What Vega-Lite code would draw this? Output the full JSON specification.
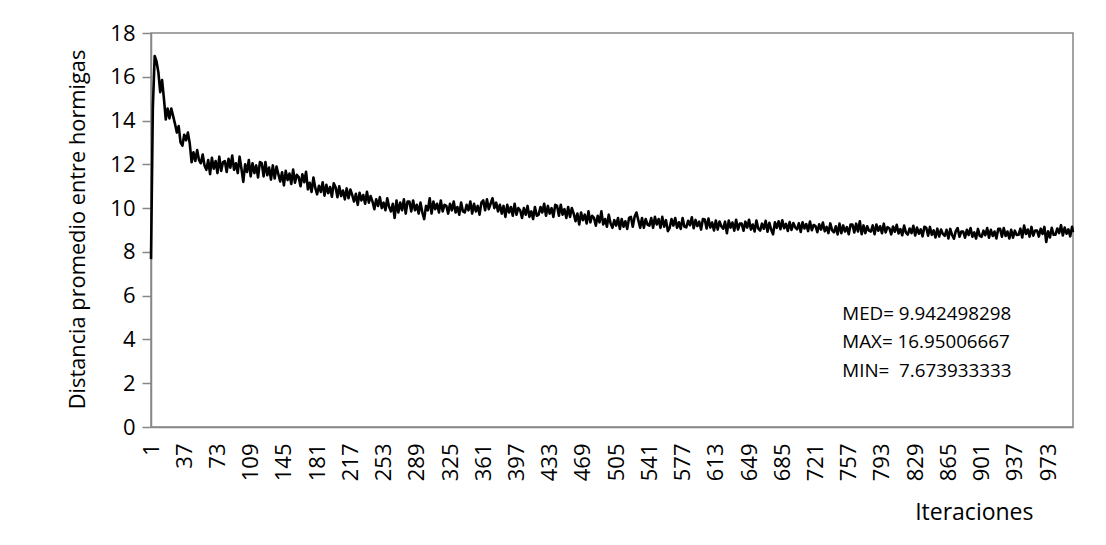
{
  "$schema": "https://vega.github.io/schema/vega-lite/v6.json",
  "width": 922,
  "height": 394,
  "autosize": "none",
  "padding": {"left": 151, "top": 33, "right": 33, "bottom": 118},
  "background": "white",
  "config": {
    "view": {"stroke": "#878787", "strokeWidth": 1.5},
    "font": "Open Sans"
  },
  "datasets": {
    "series": [
      {"i":1,"d":7.67},{"i":3,"d":14.6},{"i":5,"d":16.95},{"i":7,"d":16.7},{"i":9,"d":16.2},{"i":11,"d":15.3},{"i":13,"d":15.85},{"i":15,"d":15.0},{"i":17,"d":14.05},{"i":19,"d":14.55},
      {"i":21,"d":14.1},{"i":23,"d":14.55},{"i":25,"d":14.2},{"i":27,"d":13.85},{"i":29,"d":13.45},{"i":31,"d":13.75},{"i":33,"d":13.0},{"i":35,"d":12.85},{"i":37,"d":13.35},{"i":39,"d":13.1},
      {"i":41,"d":13.45},{"i":43,"d":12.95},{"i":45,"d":12.1},{"i":47,"d":12.55},{"i":49,"d":12.15},{"i":51,"d":12.65},{"i":53,"d":12.2},{"i":55,"d":12.05},{"i":57,"d":12.45},{"i":59,"d":11.95},
      {"i":61,"d":11.75},{"i":63,"d":12.2},{"i":65,"d":11.55},{"i":67,"d":12.3},{"i":69,"d":11.8},{"i":71,"d":12.15},{"i":73,"d":11.6},{"i":75,"d":12.35},{"i":77,"d":11.7},{"i":79,"d":12.1},
      {"i":81,"d":12.15},{"i":83,"d":11.65},{"i":85,"d":12.25},{"i":87,"d":11.85},{"i":89,"d":12.4},{"i":91,"d":11.75},{"i":93,"d":12.05},{"i":95,"d":11.6},{"i":97,"d":12.35},{"i":99,"d":11.8},
      {"i":101,"d":11.2},{"i":103,"d":12.0},{"i":105,"d":11.65},{"i":107,"d":12.2},{"i":109,"d":11.45},{"i":111,"d":12.05},{"i":113,"d":11.6},{"i":115,"d":11.95},{"i":117,"d":11.4},{"i":119,"d":12.1},
      {"i":121,"d":12.05},{"i":123,"d":11.45},{"i":125,"d":12.1},{"i":127,"d":11.5},{"i":129,"d":11.85},{"i":131,"d":11.3},{"i":133,"d":11.95},{"i":135,"d":11.35},{"i":137,"d":11.9},{"i":139,"d":11.55},
      {"i":141,"d":11.22},{"i":143,"d":11.64},{"i":145,"d":11.04},{"i":147,"d":11.7},{"i":149,"d":11.28},{"i":151,"d":11.58},{"i":153,"d":11.1},{"i":155,"d":11.76},{"i":157,"d":11.16},{"i":159,"d":11.52},
      {"i":161,"d":11.42},{"i":163,"d":11.0},{"i":165,"d":11.54},{"i":167,"d":11.18},{"i":169,"d":11.66},{"i":171,"d":10.86},{"i":173,"d":11.16},{"i":175,"d":10.74},{"i":177,"d":11.4},{"i":179,"d":10.92},
      {"i":181,"d":10.63},{"i":183,"d":11.02},{"i":185,"d":10.74},{"i":187,"d":11.18},{"i":189,"d":10.57},{"i":191,"d":11.07},{"i":193,"d":10.68},{"i":195,"d":10.96},{"i":197,"d":10.52},{"i":199,"d":11.13},
      {"i":201,"d":10.95},{"i":203,"d":10.5},{"i":205,"d":11.0},{"i":207,"d":10.55},{"i":209,"d":10.8},{"i":211,"d":10.4},{"i":213,"d":10.9},{"i":215,"d":10.45},{"i":217,"d":10.85},{"i":219,"d":10.6},
      {"i":221,"d":10.3},{"i":223,"d":10.65},{"i":225,"d":10.15},{"i":227,"d":10.7},{"i":229,"d":10.35},{"i":231,"d":10.6},{"i":233,"d":10.2},{"i":235,"d":10.75},{"i":237,"d":10.25},{"i":239,"d":10.55},
      {"i":241,"d":10.3},{"i":243,"d":9.95},{"i":245,"d":10.4},{"i":247,"d":10.1},{"i":249,"d":10.5},{"i":251,"d":10.0},{"i":253,"d":10.25},{"i":255,"d":9.9},{"i":257,"d":10.45},{"i":259,"d":10.05},
      {"i":261,"d":9.85},{"i":263,"d":10.2},{"i":265,"d":9.55},{"i":267,"d":10.35},{"i":269,"d":9.8},{"i":271,"d":10.25},{"i":273,"d":9.9},{"i":275,"d":10.4},{"i":277,"d":9.75},{"i":279,"d":10.3},
      {"i":281,"d":10.3},{"i":283,"d":9.85},{"i":285,"d":10.35},{"i":287,"d":9.9},{"i":289,"d":10.15},{"i":291,"d":9.75},{"i":293,"d":10.25},{"i":295,"d":9.8},{"i":297,"d":9.5},{"i":299,"d":10.1},
      {"i":301,"d":9.9},{"i":303,"d":10.45},{"i":305,"d":9.75},{"i":307,"d":10.3},{"i":309,"d":9.95},{"i":311,"d":10.2},{"i":313,"d":9.8},{"i":315,"d":10.35},{"i":317,"d":9.85},{"i":319,"d":10.15},
      {"i":321,"d":10.1},{"i":323,"d":9.75},{"i":325,"d":10.2},{"i":327,"d":9.9},{"i":329,"d":10.3},{"i":331,"d":9.8},{"i":333,"d":10.05},{"i":335,"d":9.7},{"i":337,"d":10.25},{"i":339,"d":9.85},
      {"i":341,"d":9.8},{"i":343,"d":10.15},{"i":345,"d":9.9},{"i":347,"d":10.3},{"i":349,"d":9.75},{"i":351,"d":10.2},{"i":353,"d":9.85},{"i":355,"d":10.1},{"i":357,"d":9.7},{"i":359,"d":10.25},
      {"i":361,"d":10.35},{"i":363,"d":9.9},{"i":365,"d":10.4},{"i":367,"d":9.95},{"i":369,"d":10.2},{"i":371,"d":10.45},{"i":373,"d":10.0},{"i":375,"d":10.25},{"i":377,"d":9.85},{"i":379,"d":10.15},
      {"i":381,"d":9.75},{"i":383,"d":10.1},{"i":385,"d":9.6},{"i":387,"d":10.15},{"i":389,"d":9.8},{"i":391,"d":10.05},{"i":393,"d":9.65},{"i":395,"d":10.2},{"i":397,"d":9.7},{"i":399,"d":10.0},
      {"i":401,"d":9.9},{"i":403,"d":9.55},{"i":405,"d":10.0},{"i":407,"d":9.7},{"i":409,"d":10.1},{"i":411,"d":9.6},{"i":413,"d":9.85},{"i":415,"d":9.5},{"i":417,"d":10.05},{"i":419,"d":9.65},
      {"i":421,"d":9.7},{"i":423,"d":10.05},{"i":425,"d":9.8},{"i":427,"d":10.2},{"i":429,"d":9.65},{"i":431,"d":10.1},{"i":433,"d":9.75},{"i":435,"d":10.0},{"i":437,"d":9.6},{"i":439,"d":10.15},
      {"i":441,"d":10.1},{"i":443,"d":9.65},{"i":445,"d":10.15},{"i":447,"d":9.7},{"i":449,"d":9.95},{"i":451,"d":9.55},{"i":453,"d":10.05},{"i":455,"d":9.6},{"i":457,"d":10.0},{"i":459,"d":9.75},
      {"i":461,"d":9.4},{"i":463,"d":9.75},{"i":465,"d":9.25},{"i":467,"d":9.8},{"i":469,"d":9.45},{"i":471,"d":9.7},{"i":473,"d":9.3},{"i":475,"d":9.85},{"i":477,"d":9.35},{"i":479,"d":9.65},
      {"i":481,"d":9.55},{"i":483,"d":9.2},{"i":485,"d":9.65},{"i":487,"d":9.35},{"i":489,"d":9.85},{"i":491,"d":9.25},{"i":493,"d":9.5},{"i":495,"d":9.15},{"i":497,"d":9.7},{"i":499,"d":9.3},
      {"i":501,"d":9.1},{"i":503,"d":9.45},{"i":505,"d":9.2},{"i":507,"d":9.55},{"i":509,"d":9.05},{"i":511,"d":9.5},{"i":513,"d":9.15},{"i":515,"d":9.4},{"i":517,"d":9.05},{"i":519,"d":9.55},
      {"i":521,"d":9.6},{"i":523,"d":9.15},{"i":525,"d":9.6},{"i":527,"d":9.8},{"i":529,"d":9.45},{"i":531,"d":9.1},{"i":533,"d":9.55},{"i":535,"d":9.1},{"i":537,"d":9.5},{"i":539,"d":9.25},
      {"i":541,"d":9.2},{"i":543,"d":9.55},{"i":545,"d":9.1},{"i":547,"d":9.6},{"i":549,"d":9.25},{"i":551,"d":9.5},{"i":553,"d":9.1},{"i":555,"d":9.6},{"i":557,"d":9.15},{"i":559,"d":9.45},
      {"i":561,"d":8.95},{"i":563,"d":9.1},{"i":565,"d":9.5},{"i":567,"d":9.2},{"i":569,"d":9.55},{"i":571,"d":9.1},{"i":573,"d":9.35},{"i":575,"d":9.05},{"i":577,"d":9.55},{"i":579,"d":9.15},
      {"i":581,"d":9.12},{"i":583,"d":9.42},{"i":585,"d":9.22},{"i":587,"d":9.58},{"i":589,"d":9.08},{"i":591,"d":9.46},{"i":593,"d":9.18},{"i":595,"d":9.38},{"i":597,"d":9.02},{"i":599,"d":9.5},
      {"i":601,"d":9.48},{"i":603,"d":9.07},{"i":605,"d":9.52},{"i":607,"d":9.11},{"i":609,"d":9.34},{"i":611,"d":8.98},{"i":613,"d":9.43},{"i":615,"d":9.02},{"i":617,"d":9.39},{"i":619,"d":9.16},
      {"i":621,"d":9.06},{"i":623,"d":9.38},{"i":625,"d":8.85},{"i":627,"d":9.43},{"i":629,"d":9.11},{"i":631,"d":9.34},{"i":633,"d":8.97},{"i":635,"d":9.47},{"i":637,"d":9.02},{"i":639,"d":9.29},
      {"i":641,"d":9.29},{"i":643,"d":8.97},{"i":645,"d":9.38},{"i":647,"d":9.11},{"i":649,"d":9.47},{"i":651,"d":9.02},{"i":653,"d":9.25},{"i":655,"d":8.93},{"i":657,"d":9.43},{"i":659,"d":9.06},
      {"i":661,"d":8.97},{"i":663,"d":9.29},{"i":665,"d":9.06},{"i":667,"d":9.42},{"i":669,"d":8.92},{"i":671,"d":9.33},{"i":673,"d":9.01},{"i":675,"d":8.8},{"i":677,"d":9.35},{"i":679,"d":9.1},
      {"i":681,"d":9.4},{"i":683,"d":9.04},{"i":685,"d":9.44},{"i":687,"d":9.08},{"i":689,"d":9.28},{"i":691,"d":8.96},{"i":693,"d":9.36},{"i":695,"d":9.0},{"i":697,"d":9.32},{"i":699,"d":9.12},
      {"i":701,"d":9.03},{"i":703,"d":9.31},{"i":705,"d":8.91},{"i":707,"d":9.35},{"i":709,"d":9.07},{"i":711,"d":9.27},{"i":713,"d":8.95},{"i":715,"d":9.39},{"i":717,"d":8.99},{"i":719,"d":9.23},
      {"i":721,"d":9.18},{"i":723,"d":8.9},{"i":725,"d":9.26},{"i":727,"d":9.02},{"i":729,"d":9.34},{"i":731,"d":8.94},{"i":733,"d":9.14},{"i":735,"d":8.86},{"i":737,"d":9.3},{"i":739,"d":8.98},
      {"i":741,"d":8.89},{"i":743,"d":9.17},{"i":745,"d":8.8},{"i":747,"d":9.29},{"i":749,"d":8.85},{"i":751,"d":9.21},{"i":753,"d":8.93},{"i":755,"d":9.13},{"i":757,"d":8.81},{"i":759,"d":9.25},
      {"i":761,"d":9.25},{"i":763,"d":8.89},{"i":765,"d":9.29},{"i":767,"d":8.93},{"i":769,"d":9.4},{"i":771,"d":8.81},{"i":773,"d":9.21},{"i":775,"d":8.85},{"i":777,"d":9.17},{"i":779,"d":8.97},
      {"i":781,"d":8.93},{"i":783,"d":9.21},{"i":785,"d":8.81},{"i":787,"d":9.25},{"i":789,"d":8.97},{"i":791,"d":9.17},{"i":793,"d":8.85},{"i":795,"d":9.29},{"i":797,"d":8.89},{"i":799,"d":9.13},
      {"i":801,"d":9.08},{"i":803,"d":8.8},{"i":805,"d":9.16},{"i":807,"d":8.92},{"i":809,"d":9.24},{"i":811,"d":8.84},{"i":813,"d":9.04},{"i":815,"d":8.76},{"i":817,"d":9.2},{"i":819,"d":8.88},
      {"i":821,"d":8.79},{"i":823,"d":9.07},{"i":825,"d":8.86},{"i":827,"d":9.19},{"i":829,"d":8.75},{"i":831,"d":9.11},{"i":833,"d":8.83},{"i":835,"d":9.03},{"i":837,"d":8.71},{"i":839,"d":9.15},
      {"i":841,"d":9.1},{"i":843,"d":8.74},{"i":845,"d":9.14},{"i":847,"d":8.78},{"i":849,"d":8.98},{"i":851,"d":8.66},{"i":853,"d":9.06},{"i":855,"d":8.7},{"i":857,"d":9.02},{"i":859,"d":8.82},
      {"i":861,"d":8.73},{"i":863,"d":9.01},{"i":865,"d":8.61},{"i":867,"d":9.05},{"i":869,"d":8.77},{"i":871,"d":8.6},{"i":873,"d":8.95},{"i":875,"d":9.09},{"i":877,"d":8.69},{"i":879,"d":8.93},
      {"i":881,"d":8.93},{"i":883,"d":8.65},{"i":885,"d":9.01},{"i":887,"d":8.77},{"i":889,"d":9.09},{"i":891,"d":8.69},{"i":893,"d":8.89},{"i":895,"d":8.61},{"i":897,"d":9.05},{"i":899,"d":8.73},
      {"i":901,"d":8.69},{"i":903,"d":8.97},{"i":905,"d":8.76},{"i":907,"d":9.09},{"i":909,"d":8.65},{"i":911,"d":9.01},{"i":913,"d":8.73},{"i":915,"d":8.93},{"i":917,"d":8.61},{"i":919,"d":9.05},
      {"i":921,"d":9.05},{"i":923,"d":8.69},{"i":925,"d":9.09},{"i":927,"d":8.73},{"i":929,"d":8.93},{"i":931,"d":8.61},{"i":933,"d":9.01},{"i":935,"d":8.65},{"i":937,"d":8.97},{"i":939,"d":8.77},
      {"i":941,"d":8.78},{"i":943,"d":9.06},{"i":945,"d":8.66},{"i":947,"d":9.2},{"i":949,"d":8.82},{"i":951,"d":9.02},{"i":953,"d":8.7},{"i":955,"d":9.14},{"i":957,"d":8.74},{"i":959,"d":8.98},
      {"i":961,"d":8.98},{"i":963,"d":8.7},{"i":965,"d":9.06},{"i":967,"d":8.82},{"i":969,"d":9.14},{"i":971,"d":8.45},{"i":973,"d":8.94},{"i":975,"d":8.66},{"i":977,"d":9.1},{"i":979,"d":8.78},
      {"i":981,"d":8.79},{"i":983,"d":9.07},{"i":985,"d":8.86},{"i":987,"d":9.22},{"i":989,"d":8.75},{"i":991,"d":9.11},{"i":993,"d":8.83},{"i":995,"d":9.03},{"i":997,"d":8.71},{"i":999,"d":9.15},
      {"i":1000,"d":8.9}
    ]
  },
  "layer": [
    {
      "data": {"name": "series"},
      "mark": {"type": "line", "color": "black", "strokeWidth": 2.6, "strokeJoin": "round"},
      "encoding": {
        "x": {
          "field": "i", "type": "quantitative",
          "scale": {"domain": [1, 1000], "nice": false, "zero": false},
          "axis": {
            "values": [1,37,73,109,145,181,217,253,289,325,361,397,433,469,505,541,577,613,649,685,721,757,793,829,865,901,937,973],
            "tickCount": 40,
            "labelAngle": -90, "labelOverlap": false, "labelBound": false, "labelFlush": false,
            "ticks": false, "tickSize": 0, "grid": false,
            "domainColor": "#878787", "domainWidth": 1.5,
            "labelFontSize": 22, "labelColor": "black", "labelPadding": 16, "labelFont": "Open Sans",
            "title": "Iteraciones", "titleFontSize": 23, "titleFontWeight": "normal", "titleColor": "black",
            "titleAnchor": "end", "titleX": 882, "titleY": 85, "titleAlign": "right", "titleBaseline": "middle"
          }
        },
        "y": {
          "field": "d", "type": "quantitative",
          "scale": {"domain": [0, 18], "nice": false},
          "axis": {
            "values": [0,2,4,6,8,10,12,14,16,18], "tickCount": 20, "grid": false,
            "tickSize": 9, "tickColor": "#878787", "tickWidth": 1.5,
            "domainColor": "#878787", "domainWidth": 1.5,
            "labelFontSize": 22, "labelColor": "black", "labelPadding": 7, "labelFont": "Open Sans",
            "title": "Distancia promedio entre hormigas", "titleFontSize": 21.8, "titleFontWeight": "normal", "titleColor": "black",
            "titleX": -74, "titleY": 196, "titleAlign": "center", "titleBaseline": "middle", "titleAngle": -90
          }
        }
      }
    },
    {
      "data": {"values": [{"note": "stats"}]},
      "mark": {"type": "text", "align": "left", "baseline": "top", "fontSize": 18.8, "lineHeight": 28.5, "lineBreak": "\n", "color": "black", "font": "Open Sans"},
      "encoding": {
        "x": {"datum": 750, "type": "quantitative"},
        "y": {"datum": 5.58, "type": "quantitative"},
        "text": {"value": "MED= 9.942498298\nMAX= 16.95006667\nMIN=\u00a0 7.673933333"}
      }
    }
  ]
}
